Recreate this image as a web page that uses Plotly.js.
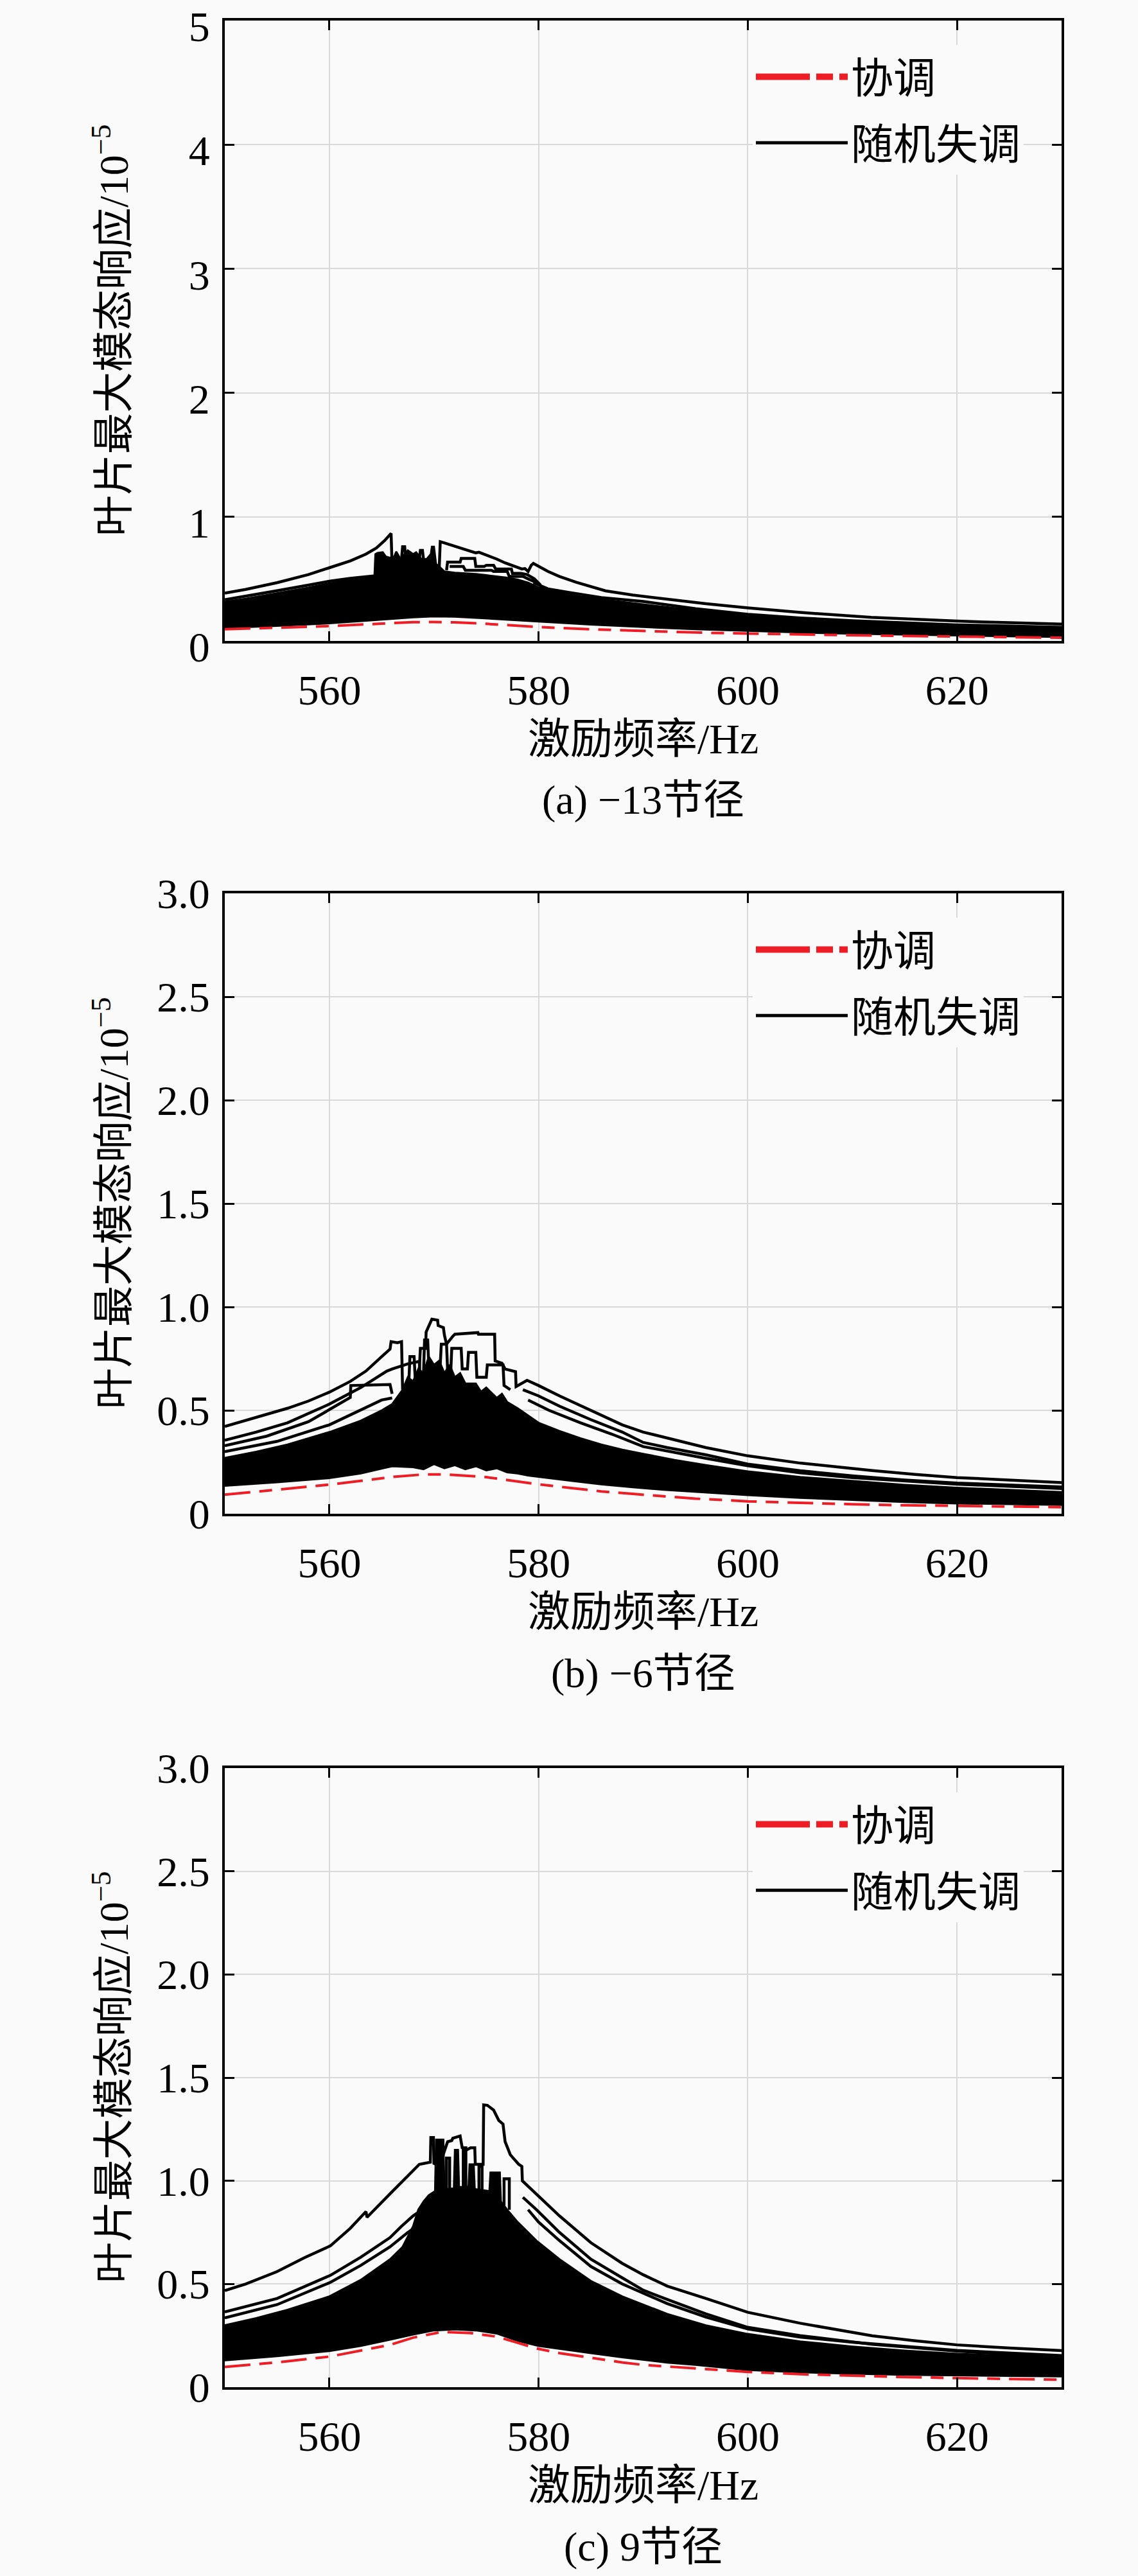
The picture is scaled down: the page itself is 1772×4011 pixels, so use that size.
<!DOCTYPE html>
<html>
<head>
<meta charset="utf-8">
<script src="https://cdn.plot.ly/plotly-3.0.1.min.js"></script>
<style>
  html, body { margin: 0; padding: 0; background: #fafafa; overflow: hidden; }
  #chart { width: 1772px; height: 4011px; }
</style>
</head>
<body>
<div id="chart"></div>
<script>
// ---------- tick labels ----------
const freqTicks = [560, 580, 600, 620];
const yTicksA = [0, 1, 2, 3, 4, 5];
const yTicksBC = [0, 0.5, 1.0, 1.5, 2.0, 2.5, 3.0];
const yTextBC = ['0', '0.5', '1.0', '1.5', '2.0', '2.5', '3.0'];
const captions = ['(a) \u221213节径', '(b) \u22126节径', '(c) 9节径'];

// ---------- panel (a): -13 nodal diameter ----------
const tunedA_x = [550, 555, 560, 565, 568, 570, 572, 575, 578, 580, 585, 590, 595, 600, 605, 610, 615, 620, 625, 630];
const tunedA_y = [0.094, 0.106, 0.120, 0.140, 0.151, 0.153, 0.150, 0.138, 0.122, 0.112, 0.094, 0.079, 0.068, 0.059, 0.051, 0.045, 0.040, 0.035, 0.030, 0.026];

const lowA_x = [550, 555, 560, 565, 568, 570, 572, 575, 578, 580, 585, 590, 595, 600, 605, 610, 615, 620, 625, 630];
const lowA_y = [0.105, 0.122, 0.142, 0.172, 0.190, 0.198, 0.196, 0.182, 0.167, 0.157, 0.132, 0.112, 0.095, 0.080, 0.068, 0.058, 0.050, 0.043, 0.037, 0.032];

const upA_x = [550, 552, 555, 558, 560, 562, 564.3, 564.4, 564.6, 565.1, 565.4, 565.8, 566.2, 566.4, 566.8, 567.2, 567.5, 568.0, 568.3, 568.8, 569.3, 569.7, 569.8, 570.0, 570.2, 570.5,
  571, 572, 573, 574, 575, 576, 577, 578, 579, 580, 581, 582, 584, 586, 588, 590, 593, 596, 600, 605, 610, 615, 620, 625, 630];
const upA_y = [0.315, 0.34, 0.385, 0.43, 0.465, 0.49, 0.51, 0.70, 0.71, 0.715, 0.68, 0.67, 0.68, 0.72, 0.66, 0.70, 0.73, 0.70, 0.715, 0.66, 0.66, 0.70, 0.76, 0.76, 0.62, 0.60,
  0.56, 0.55, 0.545, 0.54, 0.53, 0.52, 0.51, 0.495, 0.47, 0.43, 0.405, 0.39, 0.36, 0.335, 0.315, 0.295, 0.265, 0.24, 0.205, 0.178, 0.157, 0.14, 0.125, 0.113, 0.102];

const topLeftA_x = [550, 552, 555, 558, 560, 562, 563.5, 564.5, 565.3, 565.9, 566.0];
const topLeftA_y = [0.385, 0.415, 0.47, 0.535, 0.59, 0.645, 0.70, 0.75, 0.81, 0.867, 0.60];

const sawA_x = [570.5, 570.6, 571.0, 572.0, 573.0, 574.0, 574.3, 575.1, 576.0, 576.8, 577.9, 578.4, 578.7, 579.0, 579.3, 579.5, 580.9, 582.0, 583.6, 585.0, 586.4, 589.0, 592.0, 596.0, 600.0, 605.0, 611.8, 616.0, 620.0, 625.0, 630.0];
const sawA_y = [0.58, 0.80, 0.79, 0.765, 0.74, 0.71, 0.715, 0.69, 0.66, 0.629, 0.594, 0.58, 0.583, 0.56, 0.61, 0.625, 0.56, 0.52, 0.473, 0.44, 0.404, 0.37, 0.34, 0.30, 0.266, 0.23, 0.19, 0.172, 0.16, 0.147, 0.136];

const edgeLeftA_x = [550, 552, 555, 558, 560, 562, 564.4];
const edgeLeftA_y = [0.333, 0.36, 0.405, 0.45, 0.482, 0.505, 0.525];

const edgeRightA_x = [579.5, 580.9, 583, 586, 590, 595, 600, 605, 610, 615, 620, 625, 630];
const edgeRightA_y = [0.47, 0.42, 0.39, 0.35, 0.318, 0.26, 0.215, 0.185, 0.163, 0.145, 0.13, 0.12, 0.11];

const boxA1_x = [571.2, 571.3, 572.5, 572.6, 573.9, 574.0, 574.8, 575.0, 575.7, 575.9, 577.4, 577.5, 578.3, 578.9, 579.6, 580.2];
const boxA1_y = [0.57, 0.635, 0.635, 0.665, 0.665, 0.60, 0.60, 0.61, 0.61, 0.58, 0.58, 0.545, 0.545, 0.535, 0.50, 0.45];
const boxA2_x = [571.5, 572.8, 573.0, 575.5, 575.7, 577.0, 577.2, 578.5, 579.0, 579.8, 580.4];
const boxA2_y = [0.60, 0.60, 0.57, 0.57, 0.56, 0.56, 0.52, 0.52, 0.50, 0.47, 0.43];
const spikesA_x = [566.9, 567.0, 567.2, 567.3, 568.6, 568.7, 568.9, 569.0];
const spikesA_y = [0.66, 0.76, 0.76, 0.66, 0.66, 0.73, 0.73, 0.66];

// ---------- panel (b): -6 nodal diameter ----------
const tunedB_x = [550, 555, 560, 563, 566, 569, 571, 573, 575, 578, 580, 583, 586, 589, 592, 595, 600, 605, 610, 615, 620, 625, 630];
const tunedB_y = [0.092, 0.115, 0.141, 0.159, 0.178, 0.190, 0.190, 0.184, 0.177, 0.156, 0.142, 0.125, 0.108, 0.096, 0.084, 0.073, 0.060, 0.052, 0.046, 0.041, 0.037, 0.034, 0.032];

const lowB_x = [550, 555, 560, 563, 566, 568, 569, 570, 571, 572, 573, 574, 575, 576, 577, 578, 579, 580, 583, 586, 589, 592, 596, 600, 605, 610, 615, 620, 625, 630];
const lowB_y = [0.135, 0.152, 0.172, 0.195, 0.23, 0.225, 0.215, 0.24, 0.22, 0.235, 0.215, 0.23, 0.21, 0.22, 0.20, 0.195, 0.185, 0.18, 0.16, 0.142, 0.128, 0.116, 0.102, 0.09, 0.077, 0.066, 0.057, 0.05, 0.046, 0.043];

const upB_x = [550, 553, 556, 560, 563, 565, 566, 567, 567.5, 568, 568.5, 569, 569.5, 570, 570.5, 571, 571.5, 572, 572.5, 573, 574, 574.5, 575, 576, 576.5, 577, 578, 579, 580,
  582, 584, 586, 588, 590, 593, 596, 600, 605, 610, 615, 620, 625, 630];
const upB_y = [0.27, 0.30, 0.335, 0.395, 0.45, 0.50, 0.53, 0.60, 0.66, 0.64, 0.70, 0.68, 0.76, 0.72, 0.74, 0.68, 0.72, 0.66, 0.68, 0.63, 0.63, 0.59, 0.61, 0.56, 0.58, 0.54, 0.51, 0.475, 0.44,
  0.40, 0.365, 0.335, 0.31, 0.29, 0.26, 0.235, 0.205, 0.178, 0.158, 0.14, 0.126, 0.115, 0.105];

const topLeftB_x = [550, 553, 556, 558, 560, 562, 563.5, 565.0, 565.8, 565.9, 566.5, 566.9, 567.0];
const topLeftB_y = [0.422, 0.465, 0.51, 0.545, 0.588, 0.64, 0.69, 0.76, 0.796, 0.832, 0.827, 0.832, 0.60];
const secondLeftB_x = [550, 553, 556, 560, 563, 565.5, 566, 567.5, 568.6, 568.7];
const secondLeftB_y = [0.355, 0.395, 0.44, 0.53, 0.61, 0.69, 0.70, 0.725, 0.737, 0.60];
const boxLeftB_x = [550, 554, 558, 562.0, 562.05, 565.8, 566.0];
const boxLeftB_y = [0.329, 0.375, 0.445, 0.562, 0.62, 0.625, 0.58];
const fourthLeftB_x = [550, 555, 560, 565, 566];
const fourthLeftB_y = [0.30, 0.35, 0.43, 0.55, 0.56];

const peakB_x = [568.5, 568.7, 569.2, 569.25, 569.8, 570.35, 570.4, 570.9, 571.0, 571.2, 571.8, 572.0, 574.2, 574.25, 575.8, 575.85, 576.5, 576.8, 577.8, 577.85, 578.9,
  580, 582, 585, 588, 590, 592.3, 596, 600, 605, 611.9, 616, 620, 625, 630];
const peakB_y = [0.60, 0.80, 0.80, 0.879, 0.941, 0.936, 0.91, 0.90, 0.863, 0.82, 0.858, 0.868, 0.876, 0.868, 0.868, 0.739, 0.728, 0.70, 0.687, 0.615, 0.645,
  0.62, 0.57, 0.50, 0.43, 0.395, 0.365, 0.32, 0.28, 0.245, 0.209, 0.19, 0.175, 0.162, 0.151];
const secondRightB_x = [578.5, 580, 582, 585, 588, 590, 592.3, 596, 600, 605, 610, 615, 620, 625, 630];
const secondRightB_y = [0.60, 0.57, 0.52, 0.455, 0.395, 0.345, 0.32, 0.285, 0.24, 0.208, 0.183, 0.163, 0.148, 0.138, 0.13];
const thirdRightB_x = [579, 581, 584, 587, 590, 593, 596, 600, 605, 610, 620, 630];
const thirdRightB_y = [0.55, 0.50, 0.44, 0.385, 0.325, 0.295, 0.268, 0.232, 0.198, 0.175, 0.143, 0.122];
const spikesB_x = [571.6, 571.7, 572.6, 572.7, 573.2, 573.3, 574.0, 574.1, 575.0, 575.1, 576.6, 576.7, 577.3];
const spikesB_y = [0.68, 0.80, 0.80, 0.70, 0.70, 0.78, 0.78, 0.66, 0.66, 0.72, 0.72, 0.62, 0.60];
const spikesB2_x = [567.6, 567.7, 568.1, 568.2, 569.0, 569.1, 569.4, 569.5, 570.6, 570.7, 571.2, 571.3];
const spikesB2_y = [0.64, 0.76, 0.76, 0.66, 0.68, 0.84, 0.84, 0.72, 0.72, 0.82, 0.82, 0.70];

// ---------- panel (c): 9 nodal diameter ----------
const tunedC_x = [550, 555, 560, 563, 565.8, 568, 570.8, 573.5, 576, 578, 579.8, 582, 585, 588, 590, 595, 600, 605, 610, 615, 620, 625, 630];
const tunedC_y = [0.098, 0.12, 0.148, 0.176, 0.205, 0.24, 0.268, 0.262, 0.245, 0.215, 0.188, 0.165, 0.142, 0.12, 0.108, 0.09, 0.074, 0.063, 0.055, 0.049, 0.044, 0.04, 0.036];

const lowC_x = [550, 555, 560, 563, 565.8, 568, 570, 572, 574, 576, 578, 580, 582, 585, 588, 590, 592.3, 595, 600, 605, 610, 615, 620, 625, 630];
const lowC_y = [0.13, 0.15, 0.175, 0.20, 0.23, 0.255, 0.275, 0.28, 0.275, 0.26, 0.225, 0.20, 0.185, 0.165, 0.145, 0.132, 0.119, 0.108, 0.083, 0.072, 0.065, 0.06, 0.056, 0.054, 0.052];

const upC_x = [550, 553, 556, 560, 563, 565.8, 567, 568, 568.5, 569, 569.5, 570.1, 570.2, 570.9, 571.0, 571.9, 572.0, 572.3, 572.4, 573.3, 573.4, 573.8, 573.9, 575.3, 575.4, 576.3, 576.4,
  577, 578, 579, 579.8, 582, 585, 588, 590, 592.3, 596, 600, 605, 610, 615, 620, 625, 630];
const upC_y = [0.30, 0.335, 0.375, 0.44, 0.52, 0.62, 0.68, 0.78, 0.86, 0.90, 0.93, 0.95, 1.20, 1.20, 0.96, 0.96, 1.15, 1.15, 0.97, 0.97, 1.08, 1.08, 0.96, 0.95, 1.04, 1.04, 0.90,
  0.86, 0.80, 0.75, 0.71, 0.62, 0.515, 0.44, 0.40, 0.355, 0.30, 0.258, 0.222, 0.197, 0.177, 0.162, 0.152, 0.143];

const topC_x = [550, 552, 555, 557.6, 560.1, 562, 563.5, 563.6, 565.8, 567.2, 568.6, 569.65, 569.7, 569.95, 570.0, 570.8, 571.3, 571.7, 571.8, 572.5, 572.7, 573.1, 573.5, 573.9, 573.95, 574.7, 574.75,
  575.1, 575.7, 576.2, 576.6, 576.8, 577.3, 578.1, 578.4, 578.45, 579.8, 582, 585, 588, 590, 592.3, 596, 600, 605, 611.9, 616, 620, 625, 630];
const topC_y = [0.468, 0.50, 0.56, 0.627, 0.685, 0.77, 0.851, 0.823, 0.937, 1.011, 1.08, 1.09, 1.21, 1.21, 1.08, 1.114, 1.189, 1.195, 1.206, 1.217, 1.16, 1.149, 1.16, 1.16, 1.08, 1.08, 1.368,
  1.366, 1.343, 1.292, 1.275, 1.19, 1.126, 1.08, 1.07, 1.0, 0.937, 0.83, 0.70, 0.60, 0.545, 0.49, 0.43, 0.363, 0.31, 0.249, 0.225, 0.205, 0.19, 0.177];
const secondLeftC_x = [550, 555, 560.1, 563, 565.8, 566.9, 568.0, 569.6, 570];
const secondLeftC_y = [0.365, 0.43, 0.542, 0.63, 0.725, 0.78, 0.83, 0.885, 0.86];
const thirdLeftC_x = [550, 555, 560.1, 563, 565.8, 567.5, 569];
const thirdLeftC_y = [0.336, 0.40, 0.508, 0.59, 0.68, 0.75, 0.80];
const secondRightC_x = [578.5, 579.8, 582, 585, 588, 590, 592.3, 596, 600, 605, 611.9, 620, 625, 630];
const secondRightC_y = [0.92, 0.86, 0.75, 0.62, 0.53, 0.47, 0.425, 0.355, 0.29, 0.25, 0.208, 0.175, 0.16, 0.15];
const thirdRightC_x = [579, 580, 582, 585, 588, 590, 592.3, 596, 600, 605, 610, 620, 630];
const thirdRightC_y = [0.86, 0.80, 0.71, 0.585, 0.50, 0.455, 0.405, 0.34, 0.282, 0.243, 0.218, 0.178, 0.153];
const spikesC_x = [571.2, 571.2, 571.5, 571.5, 572.8, 572.8, 573.05, 573.05, 574.3, 574.3, 574.6, 574.6, 576.7, 576.7, 577.2, 577.2];
const spikesC_y = [0.95, 1.11, 1.11, 0.96, 0.96, 1.16, 1.16, 0.97, 0.95, 1.07, 1.07, 0.95, 0.88, 1.01, 1.01, 0.86];

// ---------- geometry (pixels of the 1772 x 4011 page) ----------
const W = 1772, H = 4011;
const plotLeft = 350, plotRight = 1653;
const panelTop = [32, 1391, 2753];
const panelBottom = [998, 2357, 3717];

const serif = 'Liberation Serif, Times New Roman, Noto Sans CJK SC, serif';
const black = '#000000';
const red = '#ee1c25';

const panels = [
  { tuned: [tunedA_x, tunedA_y], low: [lowA_x, lowA_y], up: [upA_x, upA_y],
    curves: [[topLeftA_x, topLeftA_y], [sawA_x, sawA_y], [edgeLeftA_x, edgeLeftA_y], [edgeRightA_x, edgeRightA_y],
             [boxA1_x, boxA1_y], [boxA2_x, boxA2_y], [spikesA_x, spikesA_y]] },
  { tuned: [tunedB_x, tunedB_y], low: [lowB_x, lowB_y], up: [upB_x, upB_y],
    curves: [[topLeftB_x, topLeftB_y], [secondLeftB_x, secondLeftB_y], [boxLeftB_x, boxLeftB_y], [fourthLeftB_x, fourthLeftB_y],
             [peakB_x, peakB_y], [secondRightB_x, secondRightB_y], [thirdRightB_x, thirdRightB_y], [spikesB_x, spikesB_y], [spikesB2_x, spikesB2_y]] },
  { tuned: [tunedC_x, tunedC_y], low: [lowC_x, lowC_y], up: [upC_x, upC_y],
    curves: [[topC_x, topC_y], [secondLeftC_x, secondLeftC_y], [thirdLeftC_x, thirdLeftC_y],
             [secondRightC_x, secondRightC_y], [thirdRightC_x, thirdRightC_y], [spikesC_x, spikesC_y]] }
];

const traces = [];
const layout = {
  width: W, height: H,
  margin: { l: 0, r: 0, t: 0, b: 0 },
  paper_bgcolor: '#fafafa',
  plot_bgcolor: '#fafafa',
  showlegend: true,
  annotations: []
};

panels.forEach((p, i) => {
  const n = i === 0 ? '' : String(i + 1);
  const xa = 'x' + n, ya = 'y' + n;
  const leg = 'legend' + n;

  // dense band of mistuned responses: polygon between the upper and lower envelopes
  const bandX = p.up[0].concat(p.low[0].slice().reverse());
  const bandY = p.up[1].concat(p.low[1].slice().reverse());
  traces.push({
    x: bandX, y: bandY, xaxis: xa, yaxis: ya, type: 'scatter', mode: 'lines',
    fill: 'toself', fillcolor: black, line: { color: black, width: 3 },
    showlegend: false, legend: leg, hoverinfo: 'skip'
  });
  p.curves.forEach(c => {
    traces.push({
      x: c[0], y: c[1], xaxis: xa, yaxis: ya, type: 'scatter', mode: 'lines',
      line: { color: black, width: 4.5 }, showlegend: false, legend: leg, hoverinfo: 'skip'
    });
  });
  traces.push({
    x: p.tuned[0], y: p.tuned[1], xaxis: xa, yaxis: ya, type: 'scatter', mode: 'lines',
    line: { color: red, width: 4, dash: '40px,14px,20px,14px' },
    showlegend: false, legend: leg, hoverinfo: 'skip'
  });
  // legend entries (thicker sample lines, as in the original legend)
  traces.push({
    x: [null], y: [null], xaxis: xa, yaxis: ya, type: 'scatter', mode: 'lines',
    line: { color: red, width: 11, dash: '84px,10px,26px,10px' },
    name: '协调', legend: leg, legendgroup: 'tuned', legendrank: 1, showlegend: true, hoverinfo: 'skip'
  });
  traces.push({
    x: [null], y: [null], xaxis: xa, yaxis: ya, type: 'scatter', mode: 'lines',
    line: { color: black, width: 5 },
    name: '随机失调', legend: leg, legendgroup: 'mis', legendrank: 2, showlegend: true, hoverinfo: 'skip'
  });

  const top = panelTop[i], bottom = panelBottom[i];
  const axisCommon = {
    showline: true, linecolor: black, linewidth: 4, mirror: 'ticks',
    ticks: 'inside', ticklen: 15, tickwidth: 3, tickcolor: black,
    showgrid: true, gridcolor: '#d9d9d9', gridwidth: 2, zeroline: false,
    tickfont: { family: serif, size: 66, color: black }, fixedrange: true,
    ticklabeloverflow: 'allow'
  };
  layout['xaxis' + n] = Object.assign({}, axisCommon, {
    domain: [plotLeft / W, plotRight / W], anchor: ya,
    range: [550, 630], tickmode: 'array', tickvals: freqTicks, ticktext: freqTicks.map(String),
    ticklabelstandoff: 16
  });
  layout['yaxis' + n] = Object.assign({}, axisCommon, {
    domain: [1 - bottom / H, 1 - top / H], anchor: xa,
    range: i === 0 ? [0, 5] : [0, 3], tickmode: 'array',
    tickvals: i === 0 ? yTicksA : yTicksBC,
    ticktext: i === 0 ? yTicksA.map(String) : yTextBC,
    ticklabelstandoff: 6,
    ticklabelshift: i === 0 ? 9 : 0
  });
  layout[leg] = {
    x: 1172 / W, xanchor: 'left', y: 1 - (top + 38) / H, yanchor: 'top',
    bgcolor: '#fafafa', borderwidth: 0, itemwidth: 143, tracegroupgap: 14,
    font: { family: serif, size: 66, color: black }, traceorder: 'grouped'
  };

  const midY = 1 - (top + bottom) / 2 / H;
  layout.annotations.push({
    xref: 'paper', yref: 'paper', x: 172 / W, y: midY, textangle: -90, showarrow: false,
    text: '叶片最大模态响应/10<sup>\u22125</sup>', font: { family: serif, size: 64, color: black },
    xanchor: 'center', yanchor: 'middle'
  });
  layout.annotations.push({
    xref: 'paper', yref: 'paper', x: (plotLeft + plotRight) / 2 / W, y: 1 - (bottom + 152) / H, showarrow: false,
    text: '激励频率/Hz', font: { family: serif, size: 66, color: black }, xanchor: 'center', yanchor: 'middle'
  });
  layout.annotations.push({
    xref: 'paper', yref: 'paper', x: (plotLeft + plotRight) / 2 / W, y: 1 - (bottom + 248) / H, showarrow: false,
    text: captions[i], font: { family: serif, size: 64, color: black }, xanchor: 'center', yanchor: 'middle'
  });
});

Plotly.newPlot('chart', traces, layout, { displayModeBar: false, staticPlot: true });
</script>
</body>
</html>
